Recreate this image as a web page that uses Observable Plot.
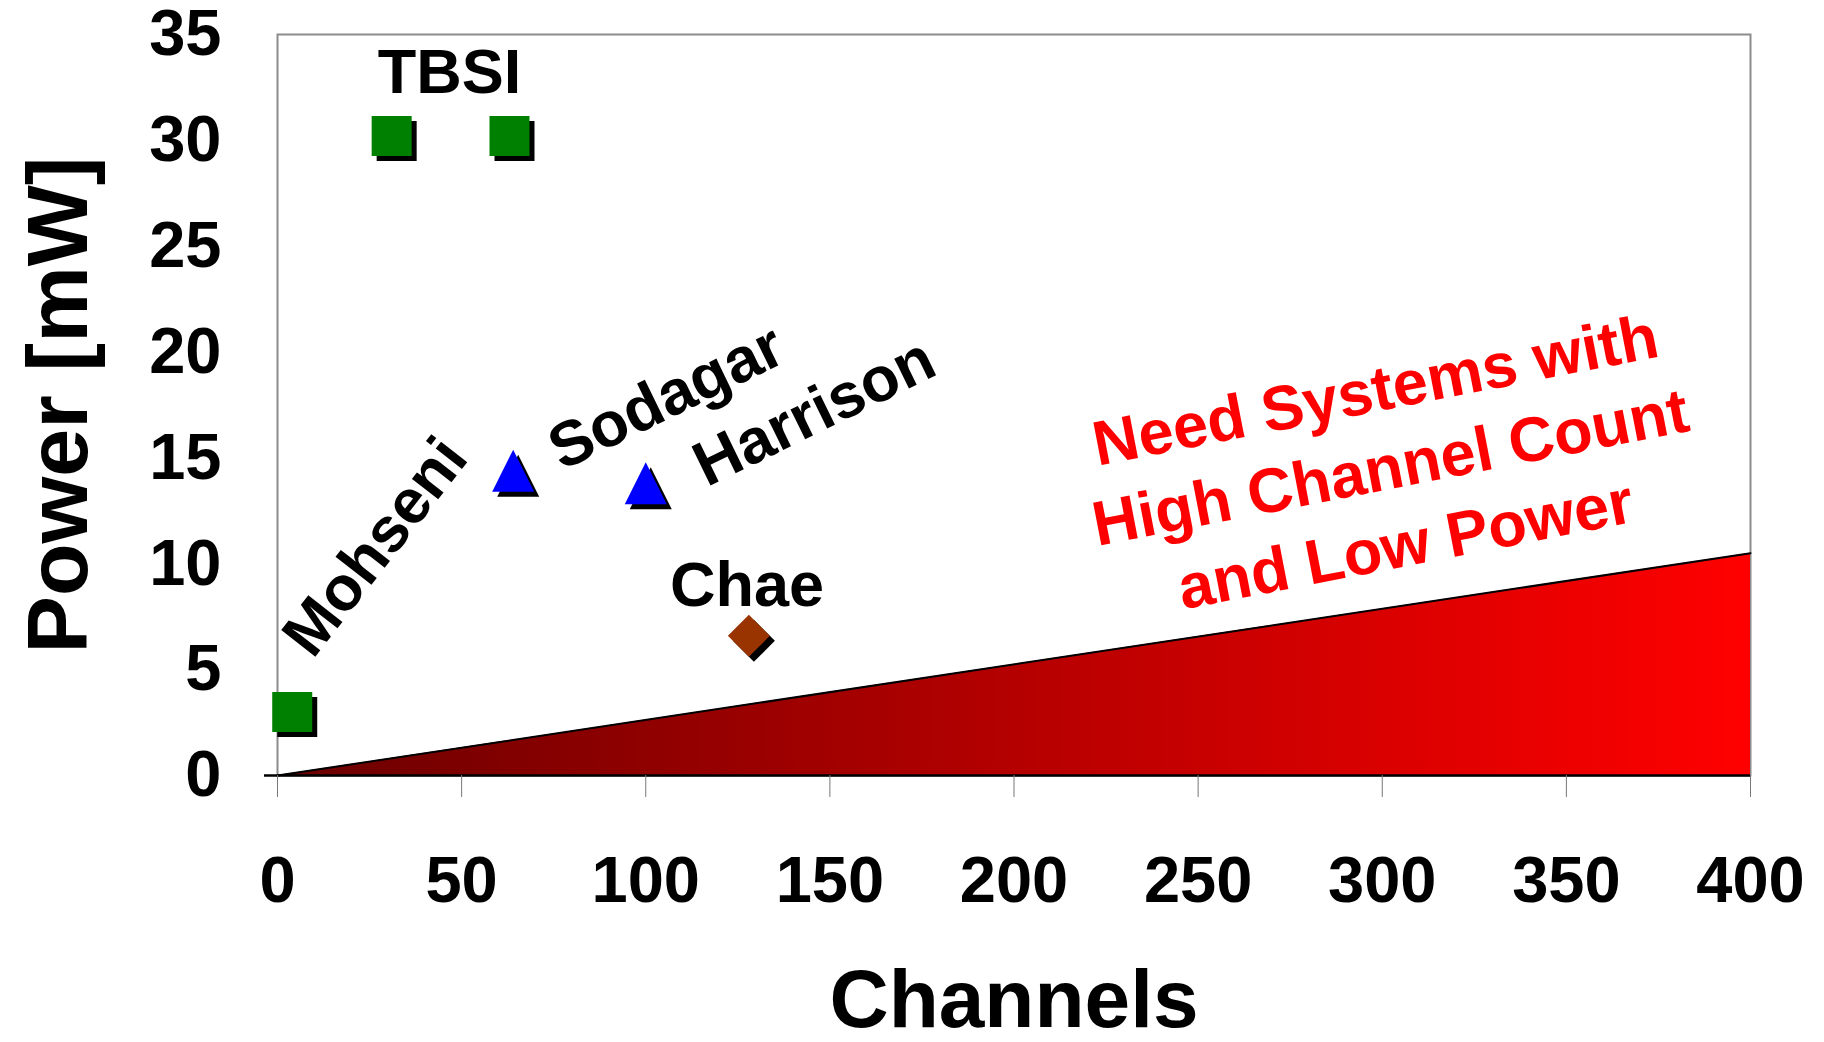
<!DOCTYPE html>
<html>
<head>
<meta charset="utf-8">
<script src="https://cdn.jsdelivr.net/npm/d3@7"></script>
<script src="https://cdn.jsdelivr.net/npm/@observablehq/plot@0.6"></script>
<style>
  html, body { margin: 0; padding: 0; background: #ffffff; }
  #chart svg { display: block; }
</style>
</head>
<body>
<div id="chart"></div>
<script>
// ---- data ----
const xTicks = [0, 50, 100, 150, 200, 250, 300, 350, 400];
const yTicks = [0, 5, 10, 15, 20, 25, 30, 35];

const systems  = ["Mohseni", "TBSI", "TBSI", "Sodagar", "Harrison", "Chae"];
const channels = [4, 31, 63, 64, 100, 128];
const powerMW  = [3.0, 30.2, 30.2, 14.4, 13.8, 6.6];
const markers  = ["square", "square", "square", "triangle", "triangle", "diamond"];

const targetChannels = [0, 400];
const targetPower    = [0, 10.5];

const labelTexts = ["TBSI", "Mohseni", "Sodagar", "Harrison", "Chae"];
const labelX     = [46.7, 26.6, 105.6, 145.8, 127.5];
const labelY     = [33.2, 10.8, 17.85, 17.15, 8.97];
const labelAngle = [0, -52, -26, -26, 0];

const noteText = "Need Systems with\nHigh Channel Count\nand Low Power";
const noteX = 302.0;
const noteY = 14.74;

// ---- tables built from arrays ----
const points = systems.map((s, i) => ({system: s, x: channels[i], y: powerMW[i], marker: markers[i]}));
const wedge = targetChannels.map((c, i) => ({x: c, y: targetPower[i]}));
const labels = labelTexts.map((t, i) => ({text: t, x: labelX[i], y: labelY[i], rotate: labelAngle[i]}));

// ---- custom marker shapes (bbox-centred like spreadsheet markers) ----
const half = size => Math.sqrt(size / Math.PI);
const squareSym = {draw(ctx, size) { const h = half(size); ctx.moveTo(-h, -h); ctx.lineTo(h, -h); ctx.lineTo(h, h); ctx.lineTo(-h, h); ctx.closePath(); }};
const triSym = {draw(ctx, size) { const h = half(size); ctx.moveTo(0, -h); ctx.lineTo(h, h); ctx.lineTo(-h, h); ctx.closePath(); }};
const diaSym = {draw(ctx, size) { const h = half(size); ctx.moveTo(0, -h); ctx.lineTo(h, 0); ctx.lineTo(0, h); ctx.lineTo(-h, 0); ctx.closePath(); }};

const font = "'Liberation Sans', Arial, Helvetica, sans-serif";
const byMarker = m => points.filter(d => d.marker === m);

function markerPair(data, sym, r, color) {
  return [
    Plot.dot(data, {x: "x", y: "y", symbol: sym, r, fill: "black", stroke: null, dx: 5, dy: 5}),
    Plot.dot(data, {x: "x", y: "y", symbol: sym, r, fill: color, stroke: null})
  ];
}

const chart = Plot.plot({
  width: 1824,
  height: 1042,
  marginLeft: 277,
  marginRight: 74,
  marginTop: 34,
  marginBottom: 267,
  style: {fontFamily: font, fontWeight: "bold", background: "#ffffff", color: "black", overflow: "visible"},
  x: {domain: [0, 400]},
  y: {domain: [0, 35]},
  marks: [
    Plot.frame({stroke: "#8c8c8c", strokeWidth: 2}),
    Plot.areaY(wedge, {x: "x", y: "y", fill: "url(#redgrad)"}),
    Plot.line(wedge, {x: "x", y: "y", stroke: "black", strokeWidth: 2}),
    Plot.ruleY([0], {stroke: "black", strokeWidth: 2.5, insetLeft: -13}),
    Plot.axisX({ticks: xTicks, tickSize: 22, tickPadding: 58, stroke: "#777", fill: "black",
                fontSize: 65, fontWeight: "bold", label: null, tickFormat: d => String(d)}),
    Plot.axisY({ticks: yTicks, tickSize: 0, tickPadding: 56, fill: "black",
                fontSize: 65, fontWeight: "bold", label: null, tickFormat: d => String(d)}),
    ...markerPair(byMarker("square"), squareSym, 20, "#008000"),
    ...markerPair(byMarker("triangle"), triSym, 21, "#0000ff"),
    ...markerPair(byMarker("diamond"), diaSym, 21, "#993300"),
    Plot.text(labels, {x: "x", y: "y", text: "text", rotate: "rotate", fontSize: 63, fontWeight: "bold",
                       fill: "black", textAnchor: "middle", lineAnchor: "middle"}),
    Plot.text([noteText], {x: () => noteX, y: () => noteY, text: d => d, rotate: -11, fontSize: 63,
                           fontWeight: "bold", fill: "#ff0000", textAnchor: "middle", lineAnchor: "middle", lineHeight: 1.25}),
    Plot.text(["Channels"], {frameAnchor: "bottom", dy: 225, text: d => d, fontSize: 82, fontWeight: "bold",
                             fill: "black", textAnchor: "middle", lineAnchor: "middle"}),
    Plot.text(["Power [mW]"], {frameAnchor: "left", dx: -218, rotate: -90, text: d => d, fontSize: 86,
                               fontWeight: "bold", fill: "black", textAnchor: "middle", lineAnchor: "middle"})
  ]
});

// gradient definition for the target wedge
const svg = d3.select(chart);
const defs = svg.insert("defs", ":first-child");
const grad = defs.append("linearGradient").attr("id", "redgrad")
  .attr("x1", "0%").attr("x2", "100%").attr("y1", "0%").attr("y2", "0%");
grad.append("stop").attr("offset", "0%").attr("stop-color", "#6a0000");
grad.append("stop").attr("offset", "100%").attr("stop-color", "#ff0000");

document.getElementById("chart").appendChild(chart);
</script>
</body>
</html>
